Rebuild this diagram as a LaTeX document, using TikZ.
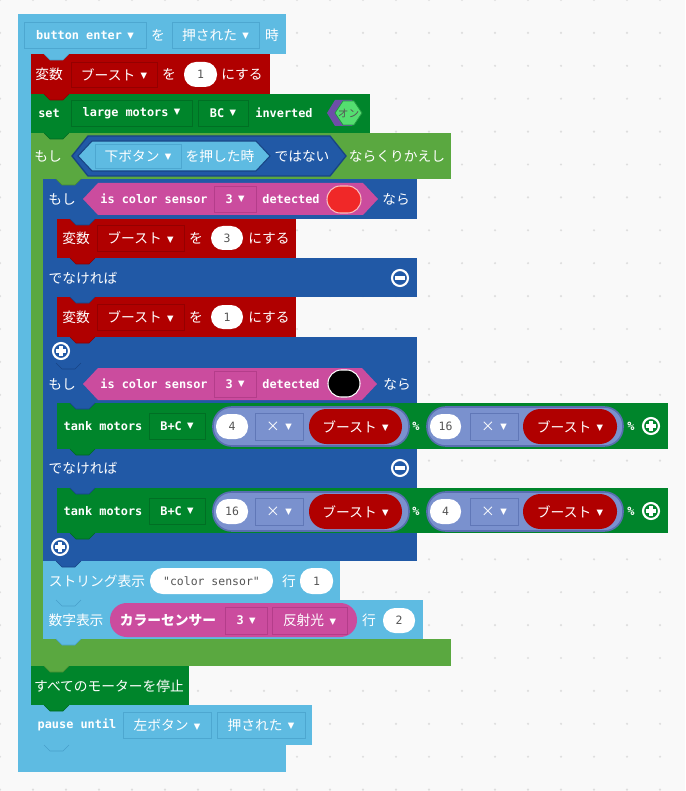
\documentclass[tikz,border=0pt]{standalone}
\usepackage{fontspec}
\setmainfont{Noto Sans CJK JP}
\setmonofont{DejaVu Sans Mono}
\newfontfamily\symf{DejaVu Sans}

\definecolor{bg}{RGB}{249,249,249}
\definecolor{dotc}{RGB}{222,222,222}
\definecolor{lb}{RGB}{94,187,226}
\definecolor{lbd}{RGB}{72,160,202}
\definecolor{vr}{RGB}{176,0,0}
\definecolor{vrd}{RGB}{138,0,0}
\definecolor{mg}{RGB}{0,133,43}
\definecolor{mgd}{RGB}{0,104,34}
\definecolor{lp}{RGB}{90,168,64}
\definecolor{lpd}{RGB}{70,140,50}
\definecolor{lg}{RGB}{33,89,166}
\definecolor{lgd}{RGB}{24,68,132}
\definecolor{sn}{RGB}{203,76,158}
\definecolor{snd}{RGB}{172,56,132}
\definecolor{ar}{RGB}{122,145,206}
\definecolor{ard}{RGB}{88,110,176}
\definecolor{tgp}{RGB}{110,78,168}
\definecolor{tgg}{RGB}{84,222,112}
\definecolor{valc}{RGB}{85,85,85}
\definecolor{redc}{RGB}{240,40,40}

\newcommand{\jpfont}{\fontsize{10.3}{12}\selectfont}
\newcommand{\monof}{\ttfamily\bfseries\fontsize{8.9}{10}\selectfont}
\newcommand{\valfont}{\ttfamily\fontsize{8.6}{10}\selectfont}
\newcommand{\dn}{\hspace{4pt}{\symf\fontsize{6.3}{7}\selectfont\raisebox{1pt}{▼}}}

% field box with centred label
\newcommand{\fieldbox}[7]{%
  \path[#1] (#2,#3) rectangle (#4,#5);
  \node[txt] (#6) at ({(#2+#4)/2},{(#3+#5)/2}) {#7};}
% white value oval
\newcommand{\valoval}[6]{%
  \path[fill=white, rounded corners=9pt] (#1,#2) rectangle (#3,#4);
  \node[val] (#5) at ({(#1+#3)/2},{(#2+#4)/2}) {#6};}
% hexagon: style, left, top, right, bottom, slant
\newcommand{\hexshape}[6]{%
  \path[#1] (#2,{(#3+#5)/2}) -- (#2+#6,#3) -- (#4-#6,#3) -- (#4,{(#3+#5)/2})
    -- (#4-#6,#5) -- (#2+#6,#5) -- cycle;}
% connection tab under a block
\newcommand{\blknotch}[4]{%
  \fill[#1] (#3+13,#4) -- (#3+19,#4+6) -- (#3+32,#4+6) -- (#3+38,#4) -- cycle;
  \draw[#2, line width=0.45pt] (#3+13,#4) -- (#3+19,#4+6) -- (#3+32,#4+6) -- (#3+38,#4);}
\newcommand{\minusicon}[2]{%
  \draw[icon] (#1,#2) circle (6pt);
  \fill[white] (#1-5,#2-1.6) rectangle (#1+5,#2+1.6);}
\newcommand{\plusicon}[2]{%
  \draw[icon] (#1,#2) circle (6pt);
  \fill[white] (#1-5,#2-1.6) rectangle (#1+5,#2+1.6);
  \fill[white] (#1-1.6,#2-5) rectangle (#1+1.6,#2+5);}
% tank motors row: top y, prefix, first value, second value
\newcommand{\tankrow}[4]{%
  \node[mono] (#2Label) at (103,#1+23) {tank motors};
  \fieldbox{fld=mg}{149}{#1+10}{205}{#1+36}{#2Port}{\monof B+C\dn}
  \path[fill=ar, draw=ard, line width=1.2pt, rounded corners=14pt] (213,#1+4) rectangle (409,#1+43);
  \valoval{216}{#1+11}{248}{#1+36}{#2ValA}{#3}
  \fieldbox{fld=ar}{255}{#1+10}{303}{#1+37}{#2OpA}{×\dn}
  \path[fill=vr, rounded corners=13pt] (309,#1+6) rectangle (402,#1+41);
  \node[txt] (#2VarA) at (355.5,#1+23.5) {ブースト\dn};
  \node[mono] (#2PctA) at (416,#1+23) {\%};
  \path[fill=ar, draw=ard, line width=1.2pt, rounded corners=14pt] (427,#1+4) rectangle (623,#1+43);
  \valoval{430}{#1+11}{461}{#1+36}{#2ValB}{#4}
  \fieldbox{fld=ar}{470}{#1+10}{518}{#1+37}{#2OpB}{×\dn}
  \path[fill=vr, rounded corners=13pt] (523,#1+6) rectangle (617,#1+41);
  \node[txt] (#2VarB) at (570,#1+23.5) {ブースト\dn};
  \node[mono] (#2PctB) at (631,#1+23) {\%};
  \plusicon{651}{#1+23}}

\begin{document}
\begin{tikzpicture}[
    x=0.75pt, y=-0.75pt,
    txt/.style={text=white, inner sep=0pt, font=\jpfont},
    mono/.style={text=white, inner sep=0pt, font=\monof},
    val/.style={text=valc, inner sep=0pt, font=\valfont},
    fld/.style={fill=#1, draw=#1d!75!#1, line width=0.7pt},
    icon/.style={draw=white, line width=1.6pt}
]
\useasboundingbox (0,0) rectangle (685,791);
\fill[bg] (0,0) rectangle (685,791);
\foreach \i in {0,...,20} {
  \foreach \j in {0,...,24} {
    \fill[dotc] (33*\i,32.9*\j) circle (0.9pt);
  }
}

% block bodies
\fill[lb] (18,14) rectangle (286,54);
\fill[lb] (18,54) rectangle (31,772);
\fill[lb] (18,745) rectangle (286,772);
\fill[vr] (31,54) rectangle (270,94);
\fill[mg] (31,94) rectangle (370,133);
\fill[lp] (31,133) rectangle (451,179);
\fill[lp] (31,179) rectangle (43,666);
\fill[lp] (31,639) rectangle (451,666);
\fill[lg] (43,179) rectangle (417,219);
\fill[lg] (43,219) rectangle (57,363);
\fill[lg] (43,258) rectangle (417,297);
\fill[lg] (43,337) rectangle (417,363);
\fill[vr] (57,219) rectangle (296,258);
\fill[vr] (57,297) rectangle (296,337);
\fill[lg] (43,363) rectangle (417,403);
\fill[lg] (43,403) rectangle (57,561);
\fill[lg] (43,449) rectangle (417,488);
\fill[lg] (43,533) rectangle (417,561);
\fill[mg] (57,403) rectangle (668,449);
\fill[mg] (57,488) rectangle (668,533);
\fill[lb] (43,561) rectangle (340,600);
\fill[lb] (43,600) rectangle (423,639);
\fill[mg] (31,666) rectangle (189,705);
\fill[lb] (31,705) rectangle (312,745);

% tabs
\blknotch{lb}{lbd}{31}{54}
\blknotch{vr}{vrd}{31}{94}
\blknotch{mg}{mgd}{31}{133}
\blknotch{lp}{lpd}{43}{179}
\blknotch{lg}{lgd}{57}{219}
\blknotch{vr}{vrd}{57}{258}
\blknotch{lg}{lgd}{57}{297}
\blknotch{vr}{vrd}{57}{337}
\blknotch{lg}{lgd}{43}{363}
\blknotch{lg}{lgd}{57}{403}
\blknotch{mg}{mgd}{57}{449}
\blknotch{lg}{lgd}{57}{488}
\blknotch{mg}{mgd}{57}{533}
\blknotch{lg}{lgd}{43}{561}
\blknotch{lb}{lbd}{43}{600}
\blknotch{lb}{lbd}{43}{639}
\blknotch{lp}{lpd}{31}{666}
\blknotch{mg}{mgd}{31}{705}
\blknotch{lb}{lbd}{31}{745}

% event header
\fieldbox{fld=lb}{24}{22}{146}{48}{btnName}{\monof button enter\dn}
\node[txt] (hatWo) at (158,35) {を};
\fieldbox{fld=lb}{172}{22}{259}{48}{btnState}{押された\dn}
\node[txt] (hatToki) at (272,35) {時};

% set variable
\node[txt] (v1Label) at (49,74) {変数};
\fieldbox{fld=vr}{71}{62}{157}{87}{v1Var}{ブースト\dn}
\node[txt] (v1Wo) at (169,74) {を};
\valoval{184}{62}{217}{87}{v1Val}{1}
\node[txt] (v1Suru) at (242,74) {にする};

% set inverted
\node[mono] (setLabel) at (49,113) {set};
\fieldbox{fld=mg}{71}{100}{192}{126}{setMotor}{\monof large motors\dn}
\fieldbox{fld=mg}{198}{100}{248}{126}{setPort}{\monof BC\dn}
\node[mono] (setInv) at (284,113) {inverted};
\path[fill=tgp] (327,113) -- (335,100) -- (352,100) -- (360,113) -- (352,126) -- (335,126) -- cycle;
\path[fill=tgg, draw=mgd!60!tgg, line width=0.6pt] (335,113) -- (343,101) -- (354,101) -- (362,113) -- (354,125) -- (343,125) -- cycle;
\node[val, font=\fontsize{8}{9}\selectfont] (setOn) at (348.5,113) {オン};

% while loop header
\node[txt] (loopMoshi) at (48,156) {もし};
\hexshape{fill=lg, draw=lgd, line width=1pt}{72}{136}{346}{176}{16}
\hexshape{fill=lb, draw=lgd, line width=0.8pt}{78}{141}{270}{171}{14}
\fieldbox{fld=lb}{95}{144}{181}{168}{downBtn}{下ボタン\dn}
\node[txt] (downPressed) at (220,156) {を押した時};
\node[txt] (notLabel) at (302,156) {ではない};
\node[txt] (loopRepeat) at (397,156) {ならくりかえし};

% first if
\node[txt] (if1Moshi) at (62,199) {もし};
\hexshape{fill=sn}{83}{183}{378}{215}{15}
\node[mono] (if1Sensor) at (154,199) {is color sensor};
\fieldbox{fld=sn}{214}{186}{256}{212}{if1Port}{\monof 3\dn}
\node[mono] (if1Det) at (291,199) {detected};
\path[fill=redc, draw=white!70!redc, line width=0.8pt, rounded corners=10pt] (327,186) rectangle (361,213);
\node[txt] (if1Nara) at (396,199) {なら};

\node[txt] (v2Label) at (76,238) {変数};
\fieldbox{fld=vr}{97}{225}{184}{251}{v2Var}{ブースト\dn}
\node[txt] (v2Wo) at (196,238) {を};
\valoval{211}{226}{243}{250}{v2Val}{3}
\node[txt] (v2Suru) at (269,238) {にする};

\node[txt] (else1) at (83,278) {でなければ};
\minusicon{400}{278}

\node[txt] (v3Label) at (76,317) {変数};
\fieldbox{fld=vr}{97}{304}{184}{330}{v3Var}{ブースト\dn}
\node[txt] (v3Wo) at (196,317) {を};
\valoval{211}{305}{243}{329}{v3Val}{1}
\node[txt] (v3Suru) at (269,317) {にする};
\plusicon{61}{351}

% second if
\node[txt] (if2Moshi) at (62,384) {もし};
\hexshape{fill=sn}{83}{368}{377}{400}{15}
\node[mono] (if2Sensor) at (154,384) {is color sensor};
\fieldbox{fld=sn}{214}{371}{256}{397}{if2Port}{\monof 3\dn}
\node[mono] (if2Det) at (291,384) {detected};
\path[fill=black, draw=white, line width=0.8pt, rounded corners=10pt] (328,370) rectangle (360,397);
\node[txt] (if2Nara) at (397,384) {なら};

\tankrow{403}{tA}{4}{16}
\node[txt] (else2) at (83,468) {でなければ};
\minusicon{400}{468}
\tankrow{488}{tB}{16}{4}
\plusicon{60}{547}

% display blocks
\node[txt] (strLabel) at (97,581) {ストリング表示};
\path[fill=white, rounded corners=9.5pt] (150,568) rectangle (273,594);
\node[val] (strText) at (211.5,581) {"color sensor"};
\node[txt] (strRow) at (289,581) {行};
\valoval{300}{568}{333}{594}{strLine}{1}

\node[txt] (numLabel) at (76,620) {数字表示};
\path[fill=sn, rounded corners=12.5pt] (110,603) rectangle (357,637);
\node[txt, font=\jpfont\bfseries] (numSensor) at (168,620) {カラーセンサー};
\fieldbox{fld=sn}{225}{607}{267}{634}{numPort}{\monof 3\dn}
\fieldbox{fld=sn}{272}{607}{347}{634}{numMode}{反射光\dn}
\node[txt] (numRow) at (369,620) {行};
\valoval{383}{608}{415}{633}{numLine}{2}

% after loop
\node[txt] (stopAll) at (109,686) {すべてのモーターを停止};
\node[mono] (pauseLabel) at (77,725) {pause until};
\fieldbox{fld=lb}{123}{712}{211}{738}{pauseBtn}{左ボタン\dn}
\fieldbox{fld=lb}{217}{712}{305}{738}{pauseState}{押された\dn}
\end{tikzpicture}
\end{document}
